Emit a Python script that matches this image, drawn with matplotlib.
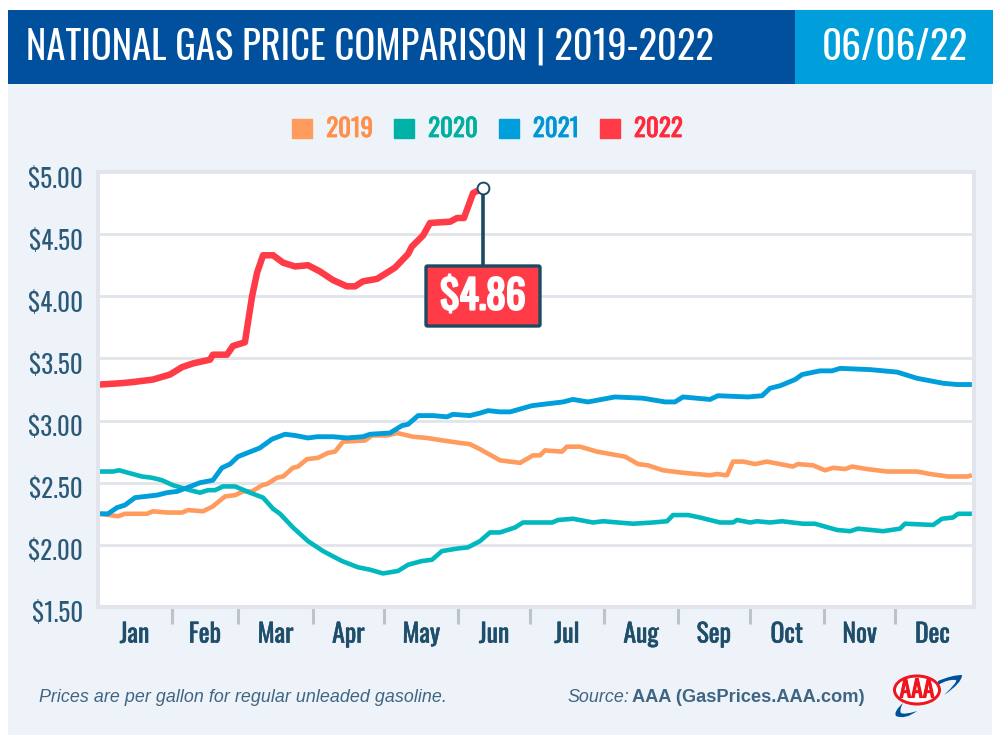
import matplotlib
matplotlib.use("Agg")
import matplotlib.pyplot as plt
import matplotlib.patheffects as pe
from matplotlib.patches import Rectangle, Ellipse, FancyBboxPatch, Patch, PathPatch
from matplotlib.path import Path
from matplotlib.transforms import ScaledTranslation

NARROW = ["Oswald", "League Gothic", "Sofia Sans Extra Condensed", "Liberation Sans"]
SANS = ["Liberation Sans"]
DARK = "#1F4E6B"

months = ["Jan", "Feb", "Mar", "Apr", "May", "Jun", "Jul", "Aug", "Sep", "Oct", "Nov", "Dec"]
month_starts = [31, 59, 90, 120, 151, 181, 212, 243, 273, 304, 334]
month_mids = [15.5, 45, 74.5, 105, 135.5, 166, 196.5, 227.5, 258, 288.5, 319, 349.5]
price_ticks = [1.5, 2.0, 2.5, 3.0, 3.5, 4.0, 4.5, 5.0]

days_2019 = [1, 8.6, 11.5, 20.7, 23.2, 29.1, 35.4, 37.9, 44.2, 48.3, 53.4, 57.6, 60.9, 64.7, 68.9, 71,
             75.1, 77.7, 81.8, 83.9, 87.7, 92.3, 96.5, 99.4, 102.8, 112, 114.9, 121.2, 125.4, 132.1,
             137.9, 144.6, 151.7, 155.9, 160.1, 168.5, 176.9, 182.3, 185.2, 187.3, 194.4, 196.5, 202,
             209.1, 220.8, 226.3, 230.4, 236.7, 245.1, 256.4, 259.3, 263.5, 266, 270.2, 275.2, 280.2,
             291.1, 293.2, 299.5, 304.5, 307.9, 312.9, 315.8, 322.1, 330.5, 343.1, 348.5, 356.1, 364, 366]
prices_2019 = [2.25, 2.23, 2.25, 2.25, 2.27, 2.26, 2.26, 2.28, 2.27, 2.31, 2.39, 2.40, 2.43, 2.43, 2.48, 2.49,
               2.54, 2.55, 2.62, 2.63, 2.69, 2.70, 2.74, 2.75, 2.83, 2.84, 2.88, 2.88, 2.90, 2.87,
               2.86, 2.84, 2.82, 2.81, 2.77, 2.68, 2.66, 2.72, 2.72, 2.76, 2.75, 2.79, 2.79,
               2.75, 2.71, 2.65, 2.64, 2.60, 2.58, 2.56, 2.57, 2.56, 2.67, 2.67, 2.65, 2.67,
               2.63, 2.65, 2.64, 2.60, 2.62, 2.61, 2.63, 2.61, 2.59, 2.59, 2.57, 2.55, 2.55, 2.56]

days_2020 = [1, 6.5, 9, 18.6, 22.8, 27, 31.6, 38.7, 42.9, 46.3, 49.2, 52.5, 57.6, 63.8, 69.3, 73.5, 76.4,
             81.8, 88.1, 94.4, 102.3, 109, 114.1, 119.5, 125.8, 130, 135.8, 140, 144.2, 150.5, 155.1,
             160.1, 164.3, 168.5, 174.8, 178.1, 190.3, 192.8, 199, 207.4, 211.6, 224.2, 232.5, 238.4,
             240.9, 247.2, 252.2, 260.6, 266, 267.7, 273.2, 276.1, 281.5, 286.5, 295.3, 300.3, 309.5,
             315, 318.3, 328.8, 335.9, 338, 349.8, 353.5, 358.1, 360.2, 366]
prices_2020 = [2.59, 2.59, 2.60, 2.55, 2.54, 2.52, 2.48, 2.44, 2.42, 2.44, 2.44, 2.47, 2.47, 2.42, 2.38, 2.29, 2.25,
               2.14, 2.03, 1.95, 1.87, 1.82, 1.80, 1.77, 1.79, 1.84, 1.87, 1.88, 1.95, 1.97, 1.98,
               2.03, 2.10, 2.10, 2.14, 2.18, 2.18, 2.20, 2.21, 2.18, 2.19, 2.17, 2.18, 2.19,
               2.24, 2.24, 2.22, 2.18, 2.18, 2.20, 2.18, 2.19, 2.18, 2.19, 2.17, 2.17, 2.12,
               2.11, 2.13, 2.11, 2.13, 2.17, 2.16, 2.21, 2.22, 2.25, 2.25]

days_2021 = [1, 4.4, 8.2, 11.5, 15.7, 24.9, 29.1, 33.3, 37.5, 42.9, 48.3, 52.1, 55.5, 58.8, 68, 73, 78.5,
             82.7, 88.1, 91.9, 98.6, 104.4, 111.1, 114.1, 122.4, 127.5, 130, 134.2, 140.4, 146.3, 148.8,
             155.9, 160.1, 163.5, 168.5, 172.7, 181.9, 194.9, 199, 205.3, 216.6, 228.3, 237.6, 241.7,
             245.1, 256.4, 259.7, 272.3, 278.2, 281.5, 285.7, 292, 294.9, 302.4, 307.5, 310.8, 323.4,
             334.7, 343.1, 354, 359.8, 366]
prices_2021 = [2.25, 2.25, 2.30, 2.32, 2.38, 2.40, 2.42, 2.43, 2.46, 2.50, 2.52, 2.62, 2.65, 2.71, 2.78, 2.85, 2.89,
               2.88, 2.86, 2.87, 2.87, 2.86, 2.87, 2.89, 2.90, 2.96, 2.97, 3.04, 3.04, 3.03, 3.05,
               3.04, 3.06, 3.08, 3.07, 3.07, 3.12, 3.15, 3.17, 3.15, 3.19, 3.18, 3.15, 3.15,
               3.19, 3.17, 3.20, 3.19, 3.20, 3.26, 3.28, 3.33, 3.37, 3.40, 3.40, 3.42, 3.41,
               3.39, 3.34, 3.30, 3.29, 3.29]

days_2022 = [1, 9.4, 14.9, 23.2, 30.3, 35.4, 40, 47.1, 48.3, 54.2, 56.7, 61.7, 64.7, 66.8, 69.3, 73.5, 77.7,
             82.7, 88.1, 93.1, 98.6, 104.4, 107.8, 111.1, 117, 121.2, 124.5, 127.5, 130, 131.6, 136.3,
             139.2, 147.6, 150.5, 153.4, 157.2, 161.2]
prices_2022 = [3.29, 3.30, 3.31, 3.33, 3.37, 3.43, 3.46, 3.49, 3.53, 3.53, 3.60, 3.63, 4.00, 4.19, 4.33, 4.33, 4.27,
               4.24, 4.25, 4.20, 4.13, 4.08, 4.08, 4.12, 4.14, 4.19, 4.23, 4.29, 4.34, 4.40, 4.49,
               4.59, 4.60, 4.63, 4.63, 4.83, 4.87]

series = [
    ("2019", days_2019, prices_2019, "#FF9B5C", 3.3),
    ("2020", days_2020, prices_2020, "#00B8BE", 3.3),
    ("2021", days_2021, prices_2021, "#009FDB", 3.5),
    ("2022", days_2022, prices_2022, "#FF3B47", 4.7),
]
legend_colors = ["#FF9B5C", "#00B2A5", "#009FDB", "#FF3B47"]
legend_text = ["#FF8F4A", "#00AFA0", "#0096D6", "#FF2A3A"]

fig = plt.figure(figsize=(10, 7.39), dpi=100, facecolor="white")

# page furniture, in pixel coordinates
back = fig.add_axes([0, 0, 1, 1], zorder=0)
back.set_xlim(0, 1000)
back.set_ylim(739, 0)
back.axis("off")
back.add_patch(Rectangle((8, 84), 984, 651, color="#EEF3FA", lw=0))
back.add_patch(Rectangle((8, 10), 789, 74, color="#00509E", lw=0))
back.add_patch(Rectangle((795, 10), 198, 74, color="#009FDB", lw=0))
back.text(26, 47, "NATIONAL GAS PRICE COMPARISON | 2019-2022", color="white", fontsize=27.8,
          family=NARROW, va="center")
back.text(895, 47, "06/06/22", color="white", fontsize=28.2, family=NARROW, va="center", ha="center")

back.text(39, 697, "Prices are per gallon for regular unleaded gasoline.", color="#3F6583",
          fontsize=12.85, family=SANS, style="italic", va="center")
back.text(567, 697, "Source:", color="#3F6583", fontsize=12.9, family=SANS, style="italic", va="center")
back.text(632, 697, "AAA (GasPrices.AAA.com)", color="#3F6583", fontsize=13.15, family=SANS,
          weight="bold", va="center")

# AAA logo
swoosh_top = Path([(938, 681), (952, 675), (962, 675), (962, 683), (944, 695), (958, 682), (956, 680), (948, 679), (938, 685), (938, 681)],
                  [Path.MOVETO, Path.CURVE3, Path.CURVE3, Path.CURVE3, Path.CURVE3, Path.CURVE3, Path.CURVE3,
                   Path.CURVE3, Path.CURVE3, Path.CLOSEPOLY])
swoosh_low = Path([(903, 703), (893, 712), (896, 716), (905, 720), (917, 711), (905, 715), (901, 713), (899, 710), (903, 703), (903, 703)],
                  [Path.MOVETO, Path.CURVE3, Path.CURVE3, Path.CURVE3, Path.CURVE3, Path.CURVE3, Path.CURVE3,
                   Path.CURVE3, Path.CURVE3, Path.CLOSEPOLY])
back.add_patch(PathPatch(swoosh_top, color="#00509E", lw=0))
back.add_patch(PathPatch(swoosh_low, color="#00509E", lw=0))
back.add_patch(Ellipse((917, 690), 48, 31, color="#F0141E", lw=0))
back.add_patch(Ellipse((917, 690), 42, 25, color="white", lw=0))
back.text(917, 690, "AAA", color="#F0141E", fontsize=17, family=NARROW, ha="center", va="center",
          path_effects=[pe.withStroke(linewidth=0.8, foreground="#F0141E")])

# chart
left, right, top, bottom = 97.5, 974, 172, 607
ax = fig.add_axes([left / 1000, 1 - bottom / 739, (right - left) / 1000, (bottom - top) / 739], zorder=1)
ax.set_facecolor("white")
ax.set_xlim(0, (right - left) / 2.389)
ax.set_ylim(1.5, 5.0)
ax.set_axisbelow(True)

for name, days, prices, color, width in series:
    ax.plot(days, prices, color=color, lw=width, solid_capstyle="butt", solid_joinstyle="round", label=name)

ax.set_yticks(price_ticks)
ax.set_yticklabels([f"${p:.2f}" for p in price_ticks], family=NARROW, fontsize=18, color="#2A5A78")
ax.tick_params(axis="y", length=0, pad=10.5)
ax.yaxis.grid(True, color="#E1E4EA", lw=2)
for label in ax.get_yticklabels():
    label.set_transform(label.get_transform() + ScaledTranslation(0, -0.05, fig.dpi_scale_trans))

ax.set_xticks(month_starts)
ax.set_xticklabels([])
ax.tick_params(axis="x", which="major", length=12.2, width=2.2, color="#BCC3CC")
ax.set_xticks(month_mids, minor=True)
ax.set_xticklabels(months, minor=True, family=NARROW, fontsize=18.5, color=DARK)
ax.tick_params(axis="x", which="minor", length=0, pad=10.5)
for label in ax.get_xticklabels(minor=True):
    label.set_path_effects([pe.withStroke(linewidth=0.4, foreground=DARK)])

for spine in ax.spines.values():
    spine.set_color("#E1E4EA")
    spine.set_linewidth(2.9)

# callout for the latest price
last_day, last_price = days_2022[-1], prices_2022[-1]
ax.plot([last_day, last_day], [last_price, 4.2], color="#1B4A63", lw=2.6, zorder=3)
ax.plot([last_day], [last_price], "o", ms=8.5, mfc="white", mec="#1B4A63", mew=1.4, zorder=4)

front = fig.add_axes([0, 0, 1, 1], zorder=2)
front.set_xlim(0, 1000)
front.set_ylim(739, 0)
front.axis("off")
front.add_patch(FancyBboxPatch((426, 266), 114, 60, boxstyle="round,pad=0,rounding_size=1.5",
                               fc="#FF3B47", ec="#1B4A63", lw=2.4))
front.text(483, 297, "$4.86", color="white", fontsize=28.5, family=NARROW, ha="center", va="center",
           path_effects=[pe.withStroke(linewidth=1.6, foreground="white")])

handles = [Patch(color=c, label=s[0]) for c, s in zip(legend_colors, series)]
leg = fig.legend(handles=handles, loc="center", bbox_to_anchor=(0.4875, 1 - 129 / 739), ncol=4, frameon=False,
                 prop={"family": NARROW, "size": 18}, labelcolor=legend_text,
                 handlelength=0.8, handleheight=0.8, handletextpad=0.55, columnspacing=0.85)
for text, color in zip(leg.get_texts(), legend_text):
    text.set_path_effects([pe.withStroke(linewidth=0.6, foreground=color)])

fig.savefig("out.png", dpi=100)
